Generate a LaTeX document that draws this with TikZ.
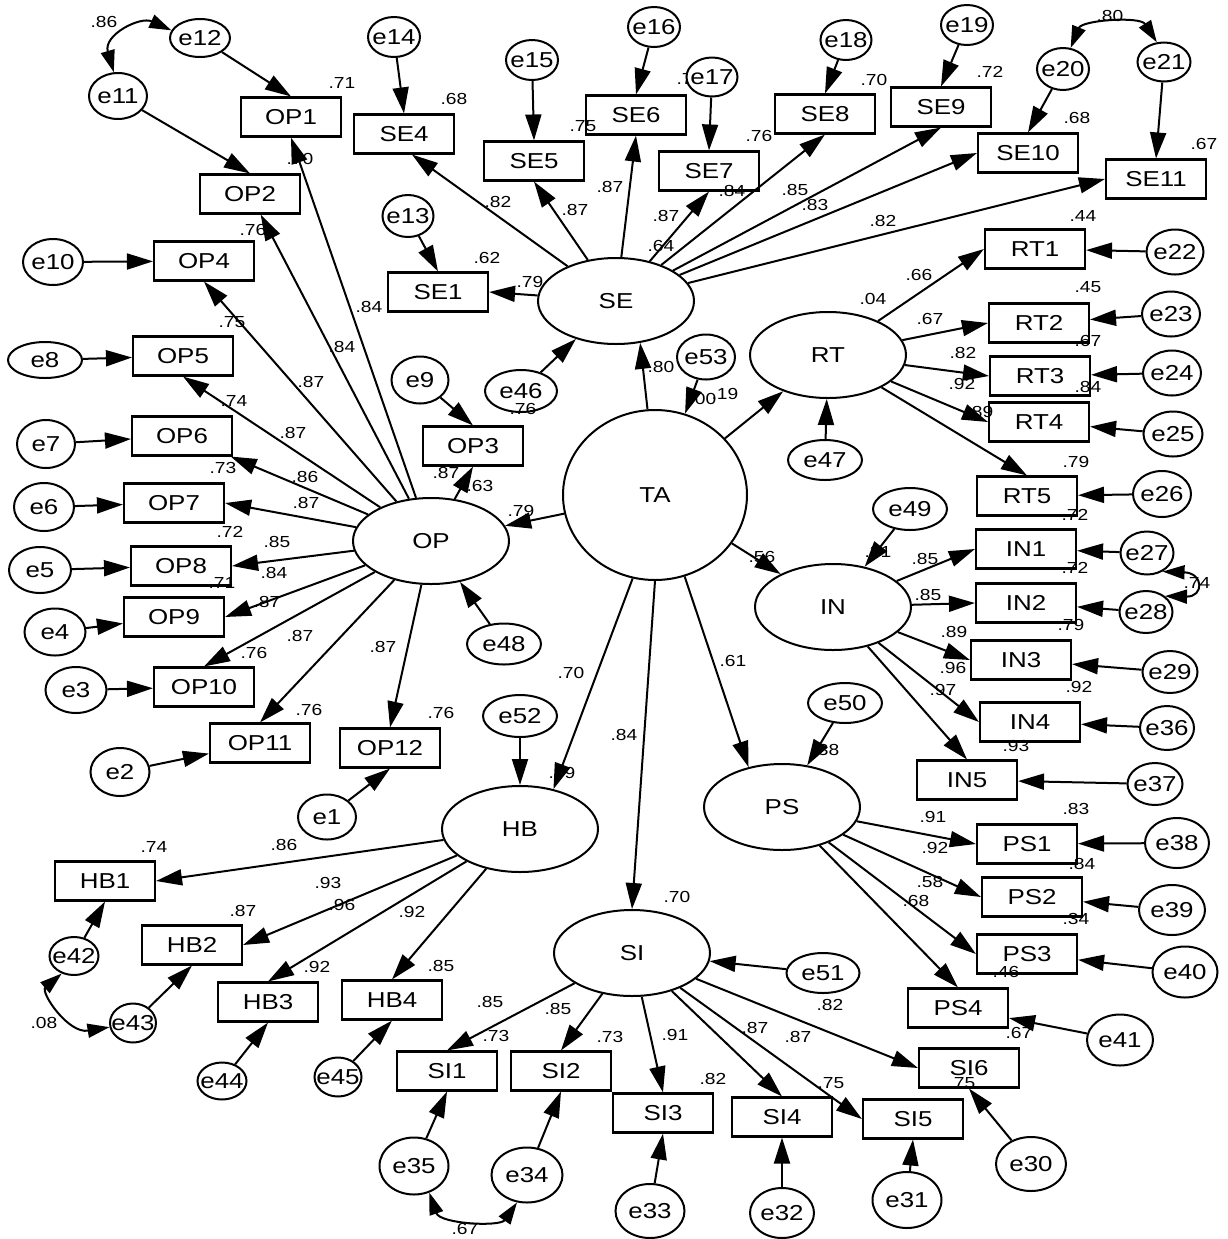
\documentclass[tikz,border=0pt]{standalone}
\usepackage{fontspec}
\setmainfont{Liberation Sans}[FakeStretch=1.2]
\usetikzlibrary{shapes.geometric,arrows.meta}
\newcommand\fsbox{\fontsize{10.8}{12}\selectfont}
\newcommand\fsnum{\fontsize{8}{9}\selectfont}
\begin{document}
\begin{tikzpicture}[x=0.5pt,y=-0.5pt,
  ind/.style={draw, line width=1.05pt, rectangle, minimum width=50pt, minimum height=19.5pt, inner sep=0pt, font=\fsbox},
  err/.style={draw, line width=1pt, ellipse, inner sep=0pt, font=\fsbox},
  lat/.style={draw, line width=1pt, ellipse, inner sep=0pt, minimum width=78pt, minimum height=43pt, font=\fsbox},
  num/.style={inner sep=0pt, font=\fsnum},
  arr/.style={-{Triangle[length=13pt,width=8pt]}, line width=1pt},
  cov/.style={{Triangle[length=11pt,width=7pt]}-{Triangle[length=11pt,width=7pt]}, line width=1pt}]
\useasboundingbox (0,0) rectangle (1228,1239);

% ---------- coefficient labels ----------
\foreach \t/\x/\y [count=\i] in {
 .86/104/22, .71/342/83, .70/300/159, .76/253/230, .84/369/307, .75/232/322,
 .84/342/347, .87/311/382, .74/234/401, .87/293/433, .73/223/468, .86/305/477,
 .87/306/503, .72/230/532, .85/277/542, .84/274/573, .71/222/583, .87/267/602,
 .87/300/636, .76/254/653, .87/383/647, .76/309/710, .76/441/713, .87/446/473,
 .63/480/486, .79/521/511, .76/523/409, .68/454/99, .62/487/258, .82/498/202,
 .79/530/282, .75/583/126, .87/575/210, .87/610/187, .76/690/79, .76/759/136,
 .84/732/191, .87/666/216, .64/661/246, .80/661/367, .00/703/399, .19/725/394,
 .70/874/80, .72/990/72, .80/1110/16, .68/1077/118, .67/1204/144, .85/795/190,
 .83/815/205, .82/883/221, .44/1083/216, .66/919/275, .04/873/299, .45/1088/287,
 .67/930/319, .67/1088/341, .82/963/353, .92/962/384, .84/1088/387, .89/980/412,
 .79/1076/462, .72/1075/515, .72/1075/568, .74/1197/583, .79/1071/625, .92/1079/687,
 .93/1016/746, .85/925/559, .85/928/595, .89/954/632, .96/953/668, .97/943/690,
 .31/878/552, .56/762/557, .38/826/750, .61/733/661, .70/571/673, .84/624/735,
 .49/562/773, .91/933/817, .83/1076/809, .92/935/848, .84/1082/864, .58/930/882,
 .68/916/901, .34/1076/919, .46/1006/972, .67/1019/1033, .82/830/1005, .87/798/1037,
 .75/831/1083, .75/962/1083, .87/755/1028, .70/677/897, .85/490/1002, .73/496/1036,
 .85/558/1009, .73/610/1037, .91/675/1035, .82/713/1079, .67/465/1229, .85/441/966,
 .92/412/912, .74/154/847, .86/284/845, .93/328/883, .96/342/905, .87/243/911,
 .92/317/967, .08/44/1023}
 \node[num] (lab\i) at (\x,\y) {\t};

% ---------- observed indicators ----------
\foreach \n/\x/\y in {
 OP1/291/117, OP2/250/194, OP3/473/446, OP4/204/261, OP5/183/356, OP6/182/436,
 OP7/174/503, OP8/181/566, OP9/174/617, OP10/204/687, OP11/260/743, OP12/390/748,
 SE1/438/292, SE4/404/134, SE5/534/161, SE6/636/115, SE7/709/171, SE8/825/114,
 SE9/941/107, SE10/1028/153, SE11/1156/179,
 RT1/1035/249, RT2/1039/323, RT3/1040/376, RT4/1039/422, RT5/1027/496,
 IN1/1026/549, IN2/1026/603, IN3/1021/660, IN4/1030/722, IN5/967/780,
 PS1/1027/844, PS2/1032/897, PS3/1027/954, PS4/958/1008,
 SI1/447/1071, SI2/561/1071, SI3/663/1113, SI4/782/1117, SI5/913/1119, SI6/969/1068,
 HB1/105/881, HB2/192/945, HB3/268/1002, HB4/392/1000}
 \node[ind] (\n) at (\x,\y) {\n};

% ---------- latent variables ----------
\foreach \n/\x/\y in {OP/431/541, SE/616/301, RT/828/355, IN/833/607,
 PS/782/807, SI/632/953, HB/520/829}
 \node[lat] (\n) at (\x,\y) {\makebox[0pt]{\n}};
\node[lat, minimum width=92pt, minimum height=85pt] (TA) at (655,495) {\makebox[0pt]{TA}};

% ---------- error terms ----------
\foreach \n/\x/\y/\w/\h [evaluate=\w as \ww using \w/2, evaluate=\h as \hh using \h/2] in {
 e1/327/817/58/45, e2/120/772/59/48, e3/76/690/61/46, e4/55/632/61/47,
 e5/40/570/62/46, e6/44/507/60/48, e7/46/444/58/48, e8/45/360/74/36,
 e9/420/380/57/47, e10/53/262/60/46, e11/118/96/58/46, e12/200/38/60/38,
 e13/408/216/51/42, e14/394/37/52/40, e15/532/60/52/40, e16/654/27/52/40,
 e18/846/40/51/40, e19/967/25/52/40, e20/1063/69/52/42, e21/1164/62/53/39,
 e22/1175/252/57/45, e23/1171/314/58/45, e24/1172/373/58/45, e25/1173/434/59/45,
 e26/1162/494/58/46, e27/1147/553/53/43, e28/1146/612/53/42, e29/1170/672/55/42,
 e36/1167/728/54/44, e37/1155/784/55/42, e38/1177/843/64/50, e39/1172/910/66/50,
 e40/1185/972/65/51, e41/1120/1040/66/51, e30/1031/1164/70/54, e31/907/1200/69/56,
 e32/782/1213/64/50, e33/650/1211/69/54, e34/527/1175/71/55, e35/414/1166/69/57,
 e42/74/956/49/38, e43/133/1023/46/39, e44/222/1081/49/37, e45/338/1077/47/39,
 e46/521/391/72/42, e47/825/460/74/40, e48/504/644/74/41, e49/910/509/74/42,
 e50/845/703/74/40, e51/823/973/73/40, e52/520/716/74/42, e53/706/357/58/45}
 \node[err, minimum width=\ww pt, minimum height=\hh pt] (\n) at (\x,\y) {\makebox[0pt]{\n}};
\node[err, fill=white, minimum width=25.5pt, minimum height=19.5pt] (e17) at (712,77) {\makebox[0pt]{e17}};

% ---------- structural paths ----------
\draw[arr] (TA) -- (OP);
\draw[arr] (TA.95) -- (SE.-60);
\draw[arr] (TA) -- (RT);
\draw[arr] (TA) -- (IN);
\draw[arr] (TA.-70) -- (PS.130);
\draw[arr] (TA.south) -- (SI.north);
\draw[arr] (TA.-105) -- (HB.50);

% disturbances
\foreach \a/\b in {e46/SE, e48/OP, e47/RT, e49/IN, e50/PS, e52/HB, e51/SI, e53/TA}
 \draw[arr] (\a) -- (\b);

% ---------- loadings ----------
\foreach \b in {OP1.south, OP2, OP3.south, OP4.south, OP5.south, OP6, OP7.east,
 OP8.east, OP9.east, OP10.north, OP11.north, OP12.north}
 \draw[arr] (OP) -- (\b);
\draw[arr] (SE) -- (SE1.east);
\draw[arr] (SE) -- ([xshift=4pt]SE4.south);
\foreach \b in {SE5.south, SE6.south, SE7.south, SE8.south, SE9.south, SE10.west, SE11.west}
 \draw[arr] (SE) -- (\b);
\foreach \b in {RT1.west, RT2.west, RT3.west, RT4.west, RT5.north}
 \draw[arr] (RT) -- (\b);
\foreach \b in {IN1.west, IN2.west, IN3.west, IN4.west, IN5.north}
 \draw[arr] (IN) -- (\b);
\foreach \b in {PS1.west, PS2.west, PS3.west, PS4.north}
 \draw[arr] (PS) -- (\b);
\foreach \b in {SI1.north, SI2.north, SI3.north, SI4.north, SI5.west, SI6.west}
 \draw[arr] (SI) -- (\b);
\foreach \b in {HB1.east, HB2.east, HB3.north, HB4.north}
 \draw[arr] (HB) -- (\b);

% ---------- measurement errors ----------
\foreach \a/\b in {e12/OP1.north, e11/OP2.north, e10/OP4, e8/OP5, e7/OP6, e6/OP7,
 e5/OP8, e4/OP9, e3/OP10, e2/OP11, e1/OP12.south, e9/OP3.north,
 e14/SE4.north, e13/SE1.north, e15/SE5.north, e16/SE6.north, e17/SE7.north,
 e18/SE8.north, e19/SE9.north, e20/SE10.north, e21/SE11.north,
 e22/RT1, e23/RT2, e24/RT3, e25/RT4, e26/RT5,
 e27/IN1, e28/IN2, e29/IN3, e36/IN4, e37/IN5,
 e38/PS1, e39/PS2, e40/PS3, e41/PS4,
 e30/SI6.south, e31/SI5.south, e32/SI4.south, e33/SI3.south, e34/SI2.south, e35/SI1.south,
 e42/HB1.south, e43/HB2.south, e44/HB3.south, e45/HB4.south}
 \draw[arr] (\a) -- (\b);

% ---------- covariances ----------
\draw[cov] (e12.165) .. controls (140,16) and (103,35) .. (e11.100);
\draw[cov] (e20.70) .. controls (1082,20) and (1140,16) .. (e21.110);
\draw[cov] (e27.-50) .. controls (1204,573) and (1204,597) .. (e28.40);
\draw[cov] (e42.235) .. controls (40,992) and (68,1034) .. (e43.190);
\draw[cov] (e35.-60) .. controls (440,1224) and (500,1227) .. (e34.-110);
\end{tikzpicture}
\end{document}
